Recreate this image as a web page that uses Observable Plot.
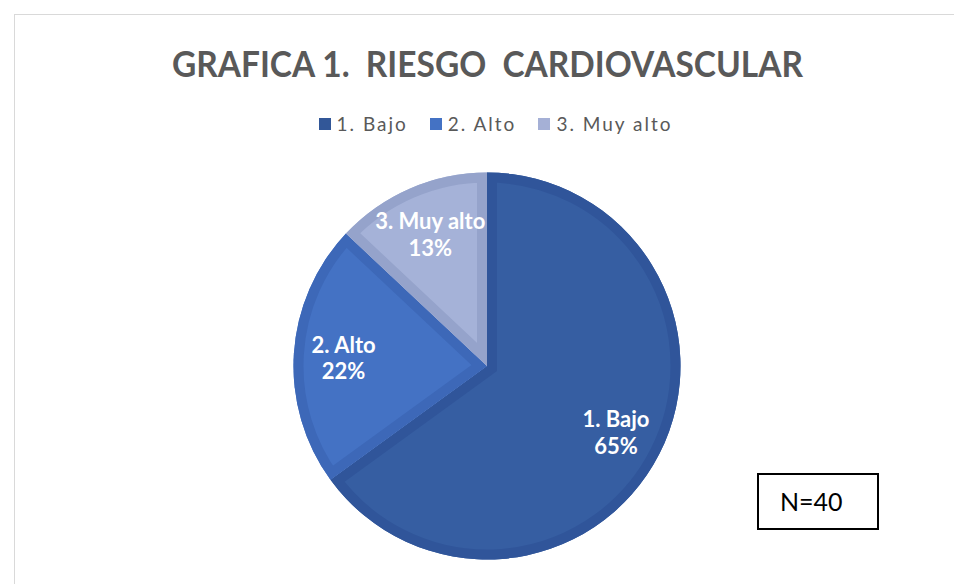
<!DOCTYPE html>
<html>
<head>
<meta charset="utf-8">
<script src="https://cdn.jsdelivr.net/npm/d3@7"></script>
<script src="https://cdn.jsdelivr.net/npm/@observablehq/plot@0.6"></script>
<style>
  html, body { margin: 0; padding: 0; background: #fff; overflow: hidden; }
  #wrap { position: relative; width: 954px; height: 584px; overflow: hidden; font-family: Lato, "Open Sans", sans-serif; }
  #frame { position: absolute; left: 14px; top: 14px; width: 1200px; height: 1200px; border: 1px solid #d9d9d9; box-sizing: border-box; }
  #chart { position: absolute; left: 0; top: 0; }
  #title { position: absolute; left: 10px; width: 954px; top: 45px; text-align: center; white-space: pre; }
  #title span { display: inline-block; font-weight: 700; font-size: 36px; color: #595959; transform-origin: center; line-height: 1; }
  #legend { position: absolute; top: 112px; left: 0; width: 954px; display: flex; justify-content: center; padding-left: 37px; box-sizing: border-box; }
  .li { display: flex; align-items: center; margin: 0 11px; font-size: 19px; letter-spacing: 2px; color: #595959; }
  .sw { width: 12px; height: 12px; margin-right: 6px; }
  #nbox { position: absolute; left: 757px; top: 473px; width: 122px; height: 57px; border: 2px solid #000; box-sizing: border-box; font-size: 25px; color: #000; line-height: 53px; padding-left: 21px; font-family: Lato, sans-serif; }
</style>
</head>
<body>
<div id="wrap">
  <div id="frame"></div>
  <div id="chart"></div>
  <div id="title"><span id="tspan"></span></div>
  <div id="legend"></div>
  <div id="nbox"></div>
</div>
<script>
// ---- data ----
const titleText = "GRAFICA 1.  RIESGO  CARDIOVASCULAR";
const categories = ["1. Bajo", "2. Alto", "3. Muy alto"];
const percents = [65, 22, 13];
const fillColors = ["#365ea2", "#4472c4", "#a5b2d8"];
const borderColors = ["#30559a", "#3d68b8", "#95a3cb"];
const legendColors = ["#325798", "#4472c4", "#a5b0d6"];
const sampleLabel = "N=40";

const rows = categories.map((c, i) => ({category: c, value: percents[i], fill: fillColors[i], stroke: borderColors[i]}));

const pie = d3.pie().value(d => d.value).sort(null)(rows);
const labelR = 0.745;
const labels = pie.map(a => {
  const mid = (a.startAngle + a.endAngle) / 2;
  return {x: labelR * Math.sin(mid), y: labelR * Math.cos(mid), text: `${a.data.category}\n${a.data.value}%`};
});

function slices(index, scales, values, dimensions, context) {
  const sx = scales.x, sy = scales.y;
  const cx = sx(0), cy = sy(0);
  const r = sx(1) - sx(0);
  const arc = d3.arc().innerRadius(0).outerRadius(r);
  const g = d3.create("svg:g").attr("transform", `translate(${cx},${cy})`);
  const defs = g.append("defs");
  pie.forEach((a, i) => {
    const id = "clip-slice-" + i;
    defs.append("clipPath").attr("id", id).append("path").attr("d", arc(a));
    g.append("path").attr("d", arc(a)).attr("fill", a.data.fill);
    g.append("path").attr("d", arc(a)).attr("fill", "none")
      .attr("stroke", a.data.stroke).attr("stroke-width", 20)
      .attr("stroke-linejoin", "miter").attr("clip-path", `url(#${id})`);
  });
  return g.node();
}

const R = 193.5, CX = 487, CY = 366;
const chart = Plot.plot({
  width: 954,
  height: 584,
  margin: 0,
  x: {domain: [-1, 1], range: [CX - R, CX + R], axis: null},
  y: {domain: [-1, 1], range: [CY + R, CY - R], axis: null},
  style: {background: "transparent", overflow: "visible"},
  marks: [
    slices,
    Plot.text(labels, {
      x: "x", y: "y", text: "text",
      fill: "white", fontWeight: 700, fontSize: 22, lineHeight: 1.22,
      fontFamily: "Lato, sans-serif"
    })
  ]
});
document.getElementById("chart").appendChild(chart);

// title, scaled to the reference width
const ts = document.getElementById("tspan");
ts.textContent = titleText;
const w = ts.getBoundingClientRect().width;
ts.style.transform = `scaleX(${631 / w})`;

// legend
const legend = document.getElementById("legend");
categories.forEach((c, i) => {
  const item = document.createElement("div");
  item.className = "li";
  const sw = document.createElement("div");
  sw.className = "sw";
  sw.style.background = legendColors[i];
  const t = document.createElement("span");
  t.textContent = c;
  item.appendChild(sw);
  item.appendChild(t);
  legend.appendChild(item);
});

document.getElementById("nbox").textContent = sampleLabel;
</script>
</body>
</html>
